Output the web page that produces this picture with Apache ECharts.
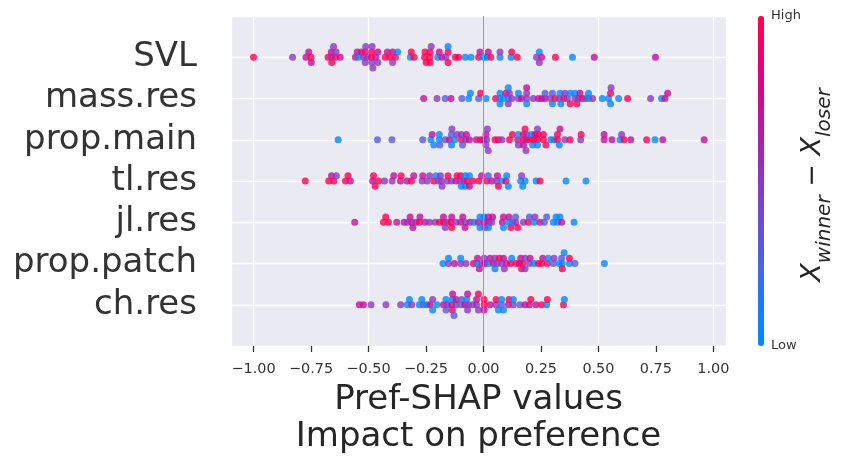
<!DOCTYPE html>
<html>
<head>
<meta charset="utf-8">
<script src="https://cdn.jsdelivr.net/npm/echarts@6/dist/echarts.min.js"></script>
<style>
  html, body { margin: 0; padding: 0; background: #fff; }
  #container { width: 843px; height: 464px; }
</style>
</head>
<body>
<div id="container"></div>
<script>
// feature value codes (0 = low, 1 = high)
var R = 1, M = 0.72, P = 0.5, PB = 0.3, B = 0.03;

var features = ['ch.res', 'prop.patch', 'jl.res', 'tl.res', 'prop.main', 'mass.res', 'SVL'];
var xTicks = [-1, -0.75, -0.5, -0.25, 0, 0.25, 0.5, 0.75, 1];

// [shap value, feature value]
var chRes = [
  [-0.540, M], [-0.522, M], [-0.489, P], [-0.424, P], [-0.360, P], [-0.322, B], [-0.312, P], [-0.279, B],
  [-0.261, PB], [-0.247, B], [-0.232, M], [-0.221, P], [-0.203, B], [-0.174, M], [-0.157, P], [-0.138, M],
  [-0.119, P], [-0.097, PB], [-0.080, M], [-0.066, P], [-0.047, P], [-0.030, P],
  [-0.331, B], [-0.268, B], [-0.221, B], [-0.163, B], [-0.134, M], [-0.119, M], [-0.095, PB], [-0.069, P], [-0.030, M],
  [-0.135, B], [-0.069, M], [-0.163, PB], [-0.128, PB], [-0.073, B], [-0.135, R],
  [-0.022, P], [0.003, R], [0.029, M], [0.055, P], [0.079, PB], [0.109, M], [0.130, P], [0.159, PB],
  [0.181, M], [0.206, R], [0.229, M], [0.253, R], [0.275, B], [0.348, R], [0.352, B],
  [0.003, R], [0.055, R], [0.079, B], [0.111, R], [0.130, B], [0.200, M], [0.278, R],
  [-0.022, R], [0.003, M], [0.065, B], [0.087, B]
];
var propPatch = [
  [-0.176, B], [-0.152, P], [-0.126, M], [-0.099, P], [-0.076, P], [-0.152, B], [-0.099, B],
  [-0.044, R], [-0.026, M], [-0.007, P], [0.022, B], [0.043, M], [0.060, P], [0.079, P], [0.101, M],
  [0.123, B], [0.142, R], [0.162, M], [0.181, P], [0.203, M], [0.220, B], [0.239, R], [0.258, M],
  [0.282, B], [0.304, PB], [0.330, B], [0.351, B], [0.374, B], [0.398, PB], [0.526, B],
  [-0.029, B], [-0.018, M], [0.007, M], [0.029, M], [0.050, P], [0.069, R], [0.091, P], [0.119, R],
  [0.156, M], [0.171, R], [0.181, P], [0.200, P], [0.253, R], [0.278, R], [0.307, P], [0.340, PB], [0.374, R],
  [0.343, B], [0.003, P], [0.050, B], [0.087, M], [0.166, R], [0.343, R]
];
var jlRes = [
  [-0.560, M], [-0.435, R], [-0.425, R], [-0.413, R], [-0.377, M], [-0.345, M], [-0.331, P], [-0.312, M],
  [-0.293, P], [-0.276, M], [-0.254, M], [-0.235, P], [-0.210, P], [-0.191, R], [-0.174, R], [-0.157, P],
  [-0.138, M], [-0.119, P], [-0.099, M], [-0.080, P],
  [-0.319, M], [-0.307, M], [-0.279, R], [-0.174, M], [-0.142, R], [-0.090, M], [-0.080, M],
  [-0.166, P], [-0.138, R],
  [-0.058, M], [-0.041, B], [-0.015, B], [0.007, P], [0.022, M], [0.036, P], [0.087, M], [0.109, B],
  [0.127, B], [0.149, R], [0.174, P], [0.200, PB], [0.220, B], [0.246, M], [0.275, PB], [0.304, B],
  [0.322, B], [0.340, M], [0.394, B],
  [-0.022, M], [0.003, M], [0.022, M], [0.040, M], [0.082, M], [0.111, M], [0.119, R], [0.140, P],
  [0.195, R], [0.224, P], [0.265, PB], [0.316, B], [0.333, B],
  [-0.015, B], [0.003, B], [0.022, B], [0.087, B], [0.140, PB]
];
var tlRes = [
  [-0.775, R], [-0.673, R], [-0.661, M], [-0.651, R], [-0.640, P], [-0.600, R], [-0.589, R], [-0.579, M],
  [-0.482, M], [-0.478, R], [-0.471, R], [-0.456, R], [-0.430, P], [-0.397, P], [-0.390, M], [-0.361, M],
  [-0.358, R], [-0.332, M], [-0.313, R], [-0.303, M], [-0.267, P], [-0.264, M], [-0.245, P], [-0.234, P],
  [-0.216, R], [-0.206, B], [-0.197, P], [-0.187, P], [-0.180, P], [-0.183, P], [-0.158, P], [-0.154, R],
  [-0.140, P], [-0.119, M], [-0.115, R], [-0.096, B], [-0.099, R], [-0.101, P], [-0.086, P], [-0.079, B],
  [-0.071, R], [-0.061, B], [-0.079, B], [-0.061, M], [-0.046, R], [-0.020, R],
  [-0.008, M], [0.014, R], [0.021, PB], [0.036, M], [0.058, P], [0.061, M], [0.065, R], [0.080, B],
  [0.098, R], [0.101, B], [0.108, B], [0.162, B], [0.166, P], [0.171, B], [0.181, B], [0.229, B],
  [0.246, R], [0.359, B], [0.446, B]
];
var propMain = [
  [-0.632, B], [-0.461, PB], [-0.398, PB], [-0.264, PB], [-0.228, B], [-0.216, B], [-0.223, M], [-0.192, B],
  [-0.190, PB], [-0.192, B], [-0.166, PB], [-0.148, M], [-0.139, PB], [-0.137, P], [-0.125, B], [-0.139, B],
  [-0.115, P], [-0.096, R], [-0.096, P], [-0.091, PB], [-0.074, M], [-0.078, P], [-0.061, M], [-0.031, M],
  [-0.014, R], [0.000, M], [0.017, P], [0.050, R], [0.065, R], [0.080, P], [0.113, R], [0.126, R],
  [0.152, B], [0.174, R], [0.188, M], [0.210, B], [0.225, M], [0.239, R], [0.261, R], [0.293, B],
  [0.307, B], [0.322, R], [0.333, M], [0.355, P], [0.377, R], [0.425, R], [0.525, M], [0.559, M],
  [0.594, B], [0.601, P], [0.612, R], [0.641, M], [0.710, R], [0.746, B], [0.780, M], [0.960, M],
  [0.011, M], [0.152, P], [0.174, R], [0.188, P], [0.203, R], [0.235, R], [0.261, R], [0.272, R],
  [0.322, R], [0.330, B], [0.423, P], [0.525, M],
  [0.011, P], [0.185, P], [0.220, R],
  [0.014, P], [0.021, P], [0.149, M], [0.181, R], [0.214, B], [0.235, B],
  [0.174, M], [0.235, P]
];
var massRes = [
  [-0.260, M], [-0.202, P], [-0.166, PB], [-0.141, M], [-0.094, PB], [-0.064, B], [-0.057, B], [-0.021, PB],
  [-0.012, R], [0.011, B], [0.053, R], [0.087, B], [0.113, P], [0.123, P], [0.152, P], [0.166, M],
  [0.188, P], [0.217, P], [0.239, M], [0.253, M], [0.268, M], [0.290, P], [0.311, R], [0.333, B],
  [0.355, P], [0.377, B], [0.398, P], [0.406, R], [0.420, M], [0.442, P], [0.457, B], [0.475, P],
  [0.517, B], [0.553, R], [0.588, B], [0.627, R], [0.727, P], [0.775, B], [0.790, M], [0.801, M],
  [0.072, B], [0.108, B], [0.098, R], [0.152, B], [0.188, P], [0.268, PB], [0.300, PB], [0.330, P],
  [0.350, R], [0.365, P], [0.377, R], [0.398, B], [0.413, P], [0.428, R], [0.457, B], [0.544, B], [0.555, P],
  [0.072, B], [0.108, P], [0.188, B],
  [0.072, B], [0.108, B], [0.188, M], [0.300, B], [0.337, B], [0.553, B]
];
var svl = [
  [-1.000, R], [-0.830, P], [-0.772, M], [-0.760, M], [-0.749, M], [-0.750, R],
  [-0.676, R], [-0.662, P], [-0.641, P], [-0.662, M], [-0.644, R], [-0.623, M], [-0.660, R], [-0.652, P],
  [-0.557, M], [-0.543, B], [-0.531, M], [-0.521, P], [-0.514, R], [-0.485, R], [-0.512, P], [-0.488, R],
  [-0.468, M], [-0.485, P], [-0.459, M], [-0.549, M], [-0.514, P], [-0.484, P], [-0.459, P], [-0.506, P], [-0.481, P],
  [-0.427, R], [-0.408, R], [-0.383, R], [-0.418, M], [-0.395, M], [-0.373, B], [-0.395, P],
  [-0.318, B], [-0.314, R], [-0.302, R],
  [-0.234, R], [-0.163, P], [-0.254, R], [-0.227, P], [-0.199, B], [-0.154, R], [-0.054, B], [-0.249, R],
  [-0.232, R], [-0.192, M], [-0.180, M], [-0.154, R], [-0.122, R], [-0.108, R], [-0.079, B], [-0.021, R],
  [-0.256, R], [-0.232, R], [-0.154, B],
  [-0.015, M], [0.000, B], [0.021, M], [0.072, B], [0.120, B], [0.147, R], [0.243, B], [0.253, M],
  [0.313, R], [0.387, B], [0.482, M], [0.748, M], [0.014, B], [0.032, R], [0.072, P], [0.123, R],
  [0.231, P], [0.243, P]
];
var rows = [chRes, propPatch, jlRes, tlRes, propMain, massRes, svl];

// beeswarm: stack points that are too close along x, alternating above / below the row
var gap = 0.013, step = 0.13;
var swarm = function (points, row) {
  var sorted = points.slice().sort(function (a, b) { return a[0] - b[0]; });
  var lastX = {};
  return sorted.map(function (p) {
    var k = 0, layer = 0;
    while (true) {
      layer = Math.ceil(k / 2) * (k % 2 ? 1 : -1) || 0;
      if (lastX[layer] === undefined || p[0] - lastX[layer] >= gap) break;
      k++;
    }
    lastX[layer] = p[0];
    return [p[0], row + layer * step, p[1]];
  });
};

var fmtTick = function (v) {
  var s = Math.abs(v).toFixed(2);
  return v < 0 ? '\u2212' + s : s;
};

var dom = document.getElementById('container');
var myChart = echarts.init(dom);
var font = 'DejaVu Sans';
var xMin = -1.098, xMax = 1.055;

var series = [{
  type: 'scatter',
  data: [],
  silent: true,
  z: 1,
  markLine: {
    silent: true,
    symbol: 'none',
    label: { show: false },
    lineStyle: { color: '#999999', width: 1, type: 'solid' },
    data: [{ xAxis: 0 }]
  }
}];
rows.forEach(function (pts, i) {
  series.push({
    name: features[i],
    type: 'scatter',
    symbol: 'circle',
    symbolSize: 7,
    z: 3,
    emphasis: { disabled: true },
    data: swarm(pts, i)
  });
});

var option = {
  backgroundColor: '#ffffff',
  animation: false,
  textStyle: { fontFamily: font },
  grid: [
    { left: 231, top: 16, width: 495, height: 330, show: true, backgroundColor: '#eaeaf2', borderWidth: 0 },
    // thin strip under the plot, only used for the x tick marks
    { left: 231, top: 340, width: 495, height: 6, show: false }
  ],
  xAxis: [{
    type: 'value',
    min: xMin,
    max: xMax,
    axisLine: { show: false, onZero: false },
    axisTick: { show: false },
    axisLabel: { customValues: xTicks, formatter: fmtTick, fontSize: 14.4, color: '#333333', margin: 16, fontFamily: font },
    splitLine: { show: true, lineStyle: { color: '#ffffff', width: 1.3 } },
    name: 'Pref-SHAP values\nImpact on preference',
    nameLocation: 'middle',
    nameGap: 36,
    nameTextStyle: { fontSize: 34, lineHeight: 37, color: '#262626', fontFamily: font }
  }, {
    gridIndex: 1,
    type: 'value',
    min: xMin,
    max: xMax,
    position: 'bottom',
    axisLine: { show: true, onZero: false, lineStyle: { color: '#ffffff', width: 1 } },
    axisTick: { show: true, length: 6, customValues: xTicks, lineStyle: { color: '#333333', width: 1.3 } },
    axisLabel: { show: false },
    splitLine: { show: false }
  }],
  yAxis: [{
    type: 'value',
    min: -1,
    max: 7,
    interval: 1,
    axisLine: { show: false, onZero: false },
    axisTick: { show: false },
    axisLabel: {
      fontSize: 34, color: '#333333', margin: 34, fontFamily: font,
      formatter: function (v) { return features[v] || ''; }
    },
    splitLine: { show: true, lineStyle: { color: '#ffffff', width: 1.3 } }
  }, {
    gridIndex: 1,
    type: 'value',
    min: 0,
    max: 1,
    show: false
  }],
  visualMap: {
    type: 'continuous',
    min: 0,
    max: 1,
    dimension: 2,
    seriesIndex: [1, 2, 3, 4, 5, 6, 7],
    calculable: false,
    hoverLink: false,
    left: 758,
    top: 16,
    padding: 0,
    itemWidth: 6,
    itemHeight: 330,
    inRange: {
      color: ['#008bfb', '#1a7cf3', '#4a64e4', '#6d4dd2', '#8e37c0', '#ae1fab', '#cc0a93', '#e80074', '#ff0052']
    }
  },
  graphic: [
    { type: 'text', x: 771, y: 16, silent: true,
      style: { text: 'High', fontSize: 13, fontFamily: font, fill: '#333333', align: 'left', verticalAlign: 'middle' } },
    { type: 'text', x: 771, y: 346, silent: true,
      style: { text: 'Low', fontSize: 13, fontFamily: font, fill: '#333333', align: 'left', verticalAlign: 'middle' } },
    { type: 'text', x: 817, y: 185, rotation: Math.PI / 2, silent: true,
      style: {
        text: '{x|X}{s|winner}{m| \u2212 }{x|X}{s|loser}',
        align: 'center', verticalAlign: 'middle', fill: '#262626', fontFamily: font,
        rich: {
          x: { fontSize: 27, fontStyle: 'italic', fontFamily: font, fill: '#262626', verticalAlign: 'top' },
          m: { fontSize: 27, fontFamily: font, fill: '#262626', verticalAlign: 'top' },
          s: { fontSize: 20, fontStyle: 'italic', fontFamily: font, fill: '#262626', verticalAlign: 'bottom', lineHeight: 35 }
        }
      } }
  ],
  series: series
};

myChart.setOption(option);
window.onresize = myChart.resize;
</script>
</body>
</html>
